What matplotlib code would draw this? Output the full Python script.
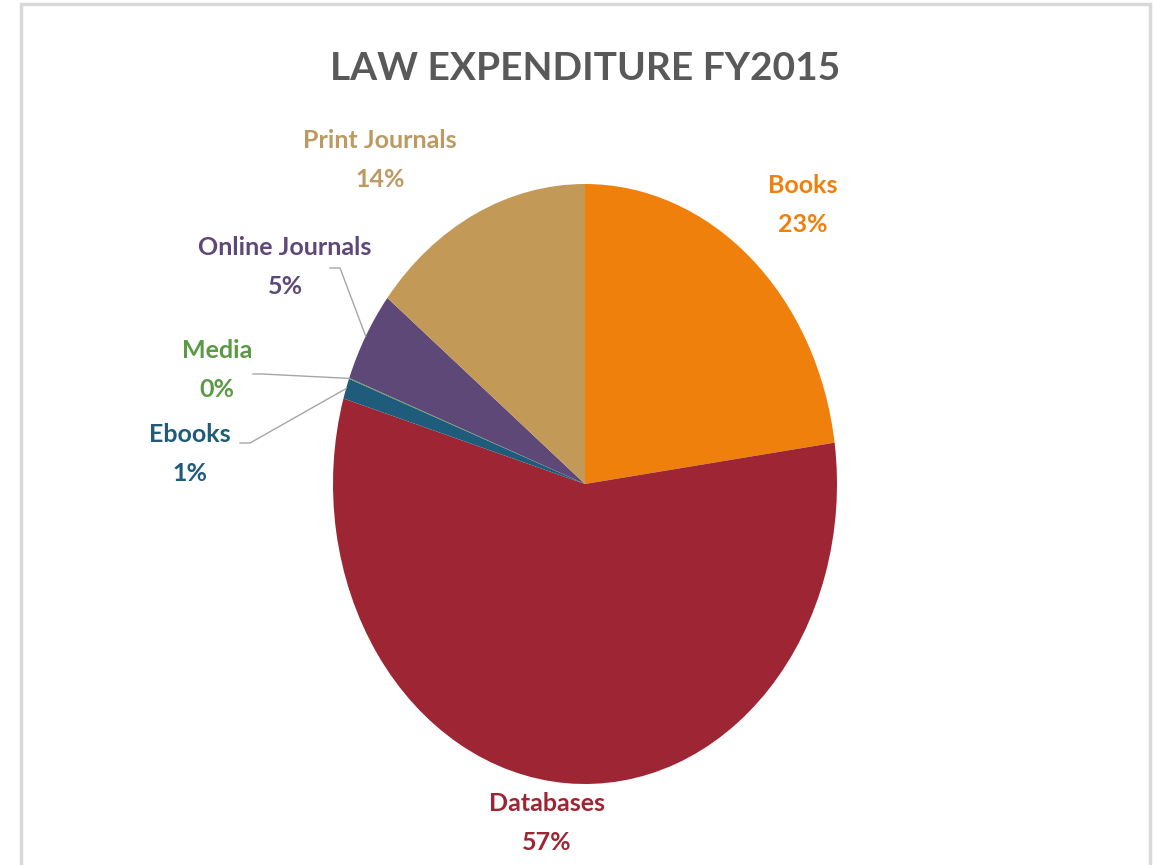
import numpy as np
import matplotlib.pyplot as plt
from matplotlib.patches import Rectangle

# ======================================================
# DATA
# ======================================================
categories = ["Books", "Databases", "Ebooks", "Media", "Online Journals", "Print Journals"]
shares = [22.8, 56.8, 1.1, 0.05, 4.9, 14.35]
pct_labels = ["23%", "57%", "1%", "0%", "5%", "14%"]

slice_colors = ["#EF800B", "#9E2533", "#1F5B7A", "#5A9A45", "#5E4878", "#C39958"]
text_colors = ["#EF800B", "#9E2533", "#1F5B7A", "#5A9A45", "#5E4878", "#BE9A62"]

# label centres in figure pixels (top-left origin)
label_px = {
    "Books": (803, 205),
    "Databases": (547, 823),
    "Ebooks": (190, 454),
    "Media": (217, 370),
    "Online Journals": (285, 267),
    "Print Journals": (380, 160),
}
# leader line elbows (start, elbow) in figure pixels
leaders = {
    "Online Journals": [(330, 268), (340, 268)],
    "Media": [(253, 374), (262, 374)],
    "Ebooks": [(240, 443), (250, 443)],
}

W, H = 1153, 865
plt.rcParams["font.family"] = ["Lato", "DejaVu Sans"]

fig = plt.figure(figsize=(W / 100, H / 100), dpi=100)
fig.patch.set_facecolor("white")

# outer frame
fig.add_artist(Rectangle((21 / W, -0.01), (1150 - 21) / W, 1 - 4 / H + 0.01,
                         transform=fig.transFigure, fill=False,
                         edgecolor="#D9D9D9", linewidth=2.5))

fig.text(585 / W, 1 - 68 / H, "LAW EXPENDITURE FY2015", ha="center", va="center",
         fontsize=28, fontweight="bold", color="#595959")

# pie axes (elliptical)
cx, cy, rx, ry = 585, 484, 252, 300
ax = fig.add_axes([(cx - rx) / W, 1 - (cy + ry) / H, 2 * rx / W, 2 * ry / H])
wedges, _ = ax.pie(shares, colors=slice_colors, startangle=90, counterclock=False,
                   radius=1, wedgeprops=dict(linewidth=0))
ax.set_aspect("auto")
ax.set_xlim(-1, 1)
ax.set_ylim(-1, 1)
ax.axis("off")


def px_to_fig(p):
    return (p[0] / W, 1 - p[1] / H)


for name, pct, col in zip(categories, pct_labels, text_colors):
    x, y = px_to_fig(label_px[name])
    fig.text(x, y, f"{name}\n{pct}", ha="center", va="center", fontsize=18,
             fontweight="bold", color=col, linespacing=1.8)

# leader lines to wedge edges
for w, name in zip(wedges, categories):
    if name not in leaders:
        continue
    mid = np.deg2rad((w.theta1 + w.theta2) / 2)
    end_disp = ax.transData.transform((np.cos(mid), np.sin(mid)))
    end_fig = fig.transFigure.inverted().transform(end_disp)
    pts = [px_to_fig(p) for p in leaders[name]] + [tuple(end_fig)]
    xs, ys = zip(*pts)
    fig.add_artist(plt.Line2D(xs, ys, transform=fig.transFigure,
                              color="#A6A6A6", linewidth=1))

plt.savefig("out.png", dpi=100)
